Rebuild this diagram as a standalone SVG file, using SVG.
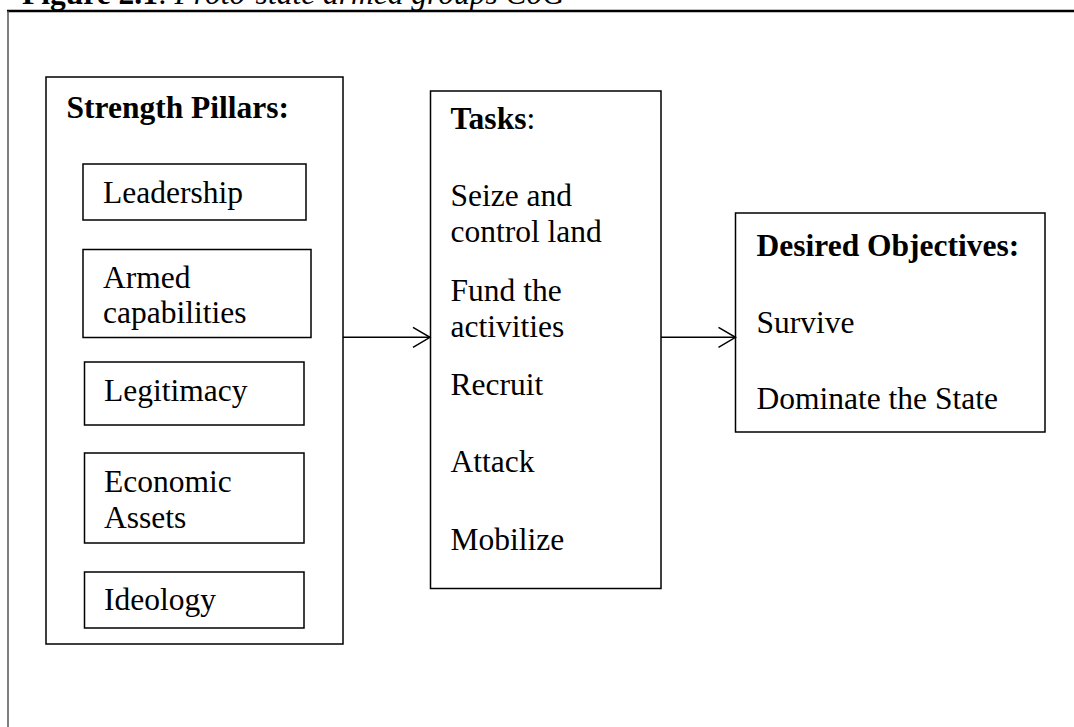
<svg xmlns="http://www.w3.org/2000/svg" width="1074" height="727" viewBox="0 0 1074 727">
<defs>
<style>
text{font-family:"Liberation Serif","Times New Roman",serif;font-size:31.5px;fill:#000}
.b{font-weight:bold}
.i{font-style:italic}
.box{fill:none;stroke:#000;stroke-width:1.5}
.conn{fill:none;stroke:#000;stroke-width:1.5}
</style>
<marker id="arr" markerWidth="20" markerHeight="24" refX="18" refY="11" orient="auto" markerUnits="userSpaceOnUse">
<path d="M1,1 L18,11 L1,21" fill="none" stroke="#000" stroke-width="1.5"/>
</marker>
</defs>
<rect width="1074" height="727" fill="#fff"/>
<g id="title">
<text x="22" y="4"><tspan class="b">Figure 2.1</tspan>: <tspan class="i">Proto-state armed groups CoG</tspan></text>
</g>
<g id="frame">
<line x1="7" y1="11" x2="1074" y2="11" stroke="#000" stroke-width="2.5"/>
<line x1="8" y1="11" x2="8" y2="727" stroke="#555" stroke-width="1.5"/>
</g>
<g id="strength-pillars">
<rect class="box" x="46" y="77" width="297" height="567"/>
<text class="b" x="66.5" y="118">Strength Pillars:</text>
</g>
<g id="leadership">
<rect class="box" x="83" y="164" width="223" height="56"/>
<text x="103" y="203">Leadership</text>
</g>
<g id="armed-capabilities">
<rect class="box" x="83" y="249.5" width="228" height="88"/>
<text x="103" y="288">Armed</text>
<text x="103" y="323">capabilities</text>
</g>
<g id="legitimacy">
<rect class="box" x="84.5" y="362" width="219.5" height="63"/>
<text x="104" y="401">Legitimacy</text>
</g>
<g id="economic-assets">
<rect class="box" x="84.5" y="453" width="219.5" height="90"/>
<text x="104" y="492">Economic</text>
<text x="104" y="528">Assets</text>
</g>
<g id="ideology">
<rect class="box" x="84.5" y="572" width="219.5" height="56"/>
<text x="104" y="610">Ideology</text>
</g>
<g id="tasks">
<rect class="box" x="430.5" y="91" width="230.5" height="497.5"/>
<text x="450.5" y="129"><tspan class="b">Tasks</tspan>:</text>
<text x="450.5" y="206">Seize and</text>
<text x="450.5" y="241.5">control land</text>
<text x="450.5" y="300.5">Fund the</text>
<text x="450.5" y="336.5">activities</text>
<text x="450.5" y="395">Recruit</text>
<text x="450.5" y="472">Attack</text>
<text x="450.5" y="550">Mobilize</text>
</g>
<g id="desired-objectives">
<rect class="box" x="735.5" y="213" width="309.5" height="219"/>
<text class="b" x="756.5" y="256">Desired Objectives:</text>
<text x="756.5" y="333">Survive</text>
<text x="756.5" y="409">Dominate the State</text>
</g>
<g id="connectors">
<line class="conn" x1="343" y1="337.3" x2="430" y2="337.3" marker-end="url(#arr)"/>
<line class="conn" x1="661" y1="337.3" x2="735.5" y2="337.3" marker-end="url(#arr)"/>
</g>
</svg>
